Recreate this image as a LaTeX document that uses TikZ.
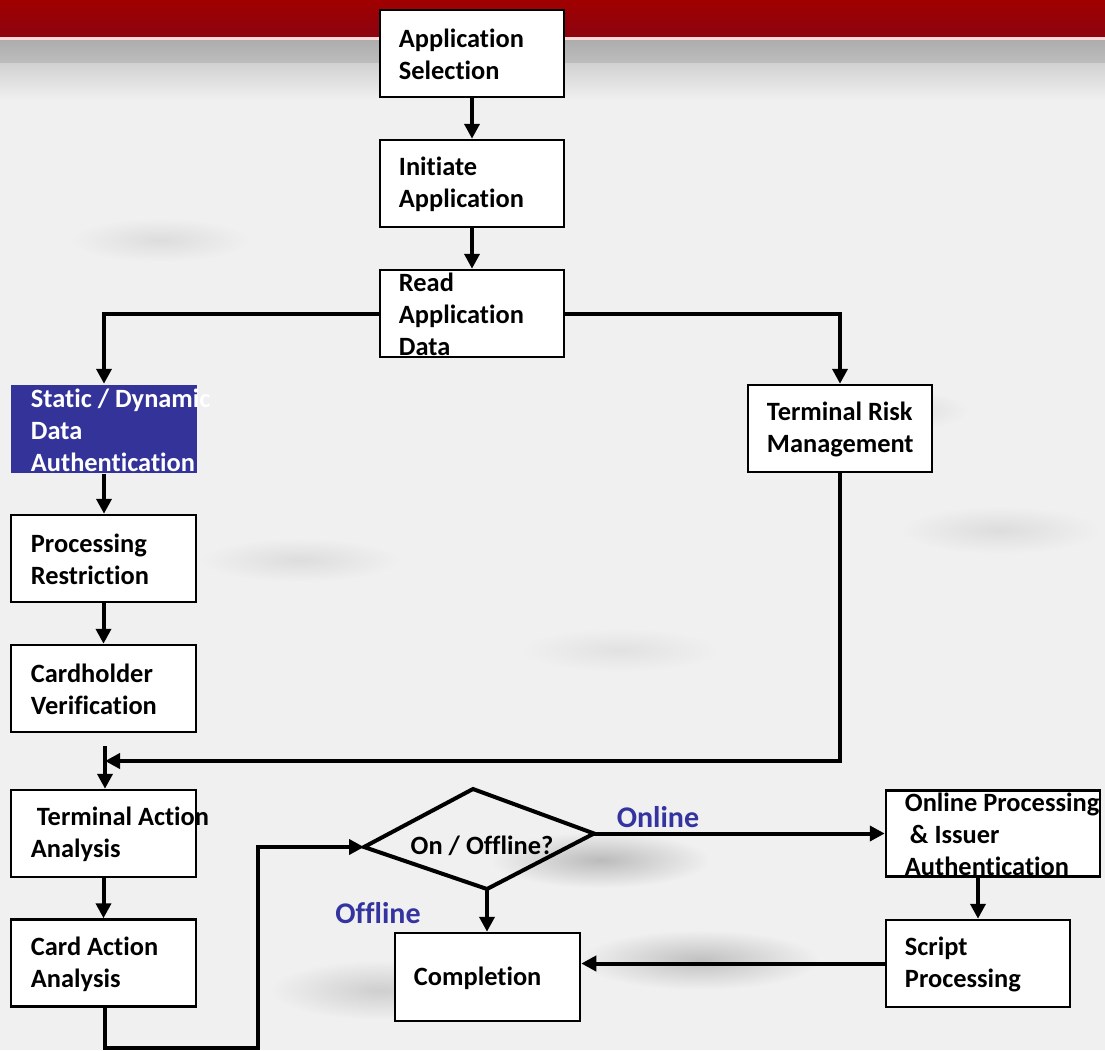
\documentclass[tikz,border=0pt]{standalone}
\usepackage{fontspec}
\setmainfont{Carlito}[Ligatures={NoCommon,NoContextual}]
\usetikzlibrary{arrows.meta,calc}
\definecolor{bandred}{RGB}{160,0,0}
\definecolor{banddark}{RGB}{140,4,16}
\definecolor{navy}{RGB}{51,51,153}
\definecolor{labelblue}{RGB}{52,52,160}
\definecolor{paper}{RGB}{240,240,240}
\begin{document}
\begin{tikzpicture}[x=1pt,y=-1pt,
  box/.style={draw=black,line width=2.5pt,fill=white,minimum width=184pt,minimum height=87pt,inner sep=0pt},
  txt/.style={anchor=west,align=left,inner sep=0pt,font=\fontsize{26.4}{32}\selectfont\bfseries},
  flow/.style={line width=4pt,-{Triangle[length=15pt,width=15pt]}},
  lbl/.style={font=\fontsize{30}{32}\selectfont\bfseries,text=labelblue,inner sep=0pt}]
% page background with the banner at the top
\useasboundingbox (0,0) rectangle (1105,1050);
\fill[paper] (0,0) rectangle (1105,1050);
\shade[top color=bandred,bottom color=banddark] (0,0) rectangle (1105,37);
\fill[white!85!red] (0,37) rectangle (1105,40);
\shade[top color=black!32,bottom color=black!26] (0,40) rectangle (1105,63);
\shade[top color=black!18,bottom color=paper] (0,63) rectangle (1105,100);
% soft streaks in the backdrop
\foreach \cx/\cy/\rx/\ry/\s in {600/860/110/28/22,700/960/120/30/20,880/410/90/22/10,300/560/100/22/8,1000/530/100/24/8,160/240/90/22/8,380/990/110/30/14,620/650/100/22/6}{
  \shade[inner color=black!\s!paper,outer color=paper] (\cx,\cy) ellipse ({\rx} and {\ry});
}
% process boxes
\node[box] (sel)  at (472,53.5) {};
\node[box] (ini)  at (472,183.5) {};
\node[box] (read) at (472,313.5) {};
\node[box,draw=none,fill=navy,minimum width=186pt,minimum height=88pt] (sda) at (104,429) {};
\node[box] (trm)  at (840,428.5) {};
\node[box,minimum width=185pt] (pr)   at (103.5,558.5) {};
\node[box,minimum width=185pt] (cv)   at (103.5,688.5) {};
\node[box,minimum width=185pt] (taa)  at (103.5,833.5) {};
\node[box,minimum width=185pt] (caa)  at (103.5,963) {};
\node[box,minimum width=185pt,minimum height=88pt] (comp) at (487.5,977) {};
\node[box,minimum width=214pt,minimum height=86pt] (op) at (993,833.5) {};
\node[box,minimum width=184pt] (sp)   at (978,963.5) {};
% box texts
\node[txt] at ($(sel.west)+(20,1)$) {Application\\Selection};
\node[txt] at ($(ini.west)+(20,1)$) {Initiate\\Application};
\node[txt] at ($(read.west)+(20,1)$) {Read\\Application\\Data};
\node[txt,text=white] at ($(sda.west)+(21,1)$) {Static / Dynamic\\Data\\Authentication};
\node[txt] at ($(trm.west)+(20,1)$) {Terminal Risk\\Management};
\node[txt] at ($(pr.west)+(21,1)$) {Processing\\Restriction};
\node[txt] at ($(cv.west)+(21,1)$) {Cardholder\\Verification};
\node[txt] at ($(taa.west)+(21,1)$) {\hspace{6pt}Terminal Action\\Analysis};
\node[txt] at ($(caa.west)+(21,1)$) {Card Action\\Analysis};
\node[txt] at ($(comp.west)+(20,1)$) {Completion};
\node[txt] at ($(op.west)+(20,1)$) {Online Processing\\\hspace{5pt}\& Issuer\\Authentication};
\node[txt] at ($(sp.west)+(20,1)$) {Script\\Processing};
% decision diamond
\coordinate (dt) at (473,789);
\coordinate (dr) at (594,833.5);
\coordinate (db) at (487,889);
\coordinate (dl) at (364,847);
\draw[line width=4pt,line join=miter] (dt) -- (dr) -- (db) -- (dl) -- cycle;
\node[txt,anchor=center] (dec) at (482,846) {On / Offline?};
% branch labels
\node[lbl] (lon) at (658,817) {Online};
\node[lbl] (loff) at (378,913) {Offline};
% connectors
\coordinate (tj) at (105,746);
\coordinate (mj) at (105,761);
\coordinate (b1) at (105,1048);
\coordinate (b2) at (258,1048);
\draw[flow] (sel) -- (ini);
\draw[flow] (ini) -- (read);
\draw[flow] (read.west) -| (sda.north);
\draw[flow] (read.east) -| (trm.north);
\draw[flow] (sda.south) -- (sda.south |- pr.north);
\draw[flow] (pr) -- (cv);
\draw[flow] (tj) -- (tj |- taa.north);
\draw[flow] (trm.south) |- (mj);
\draw[flow] (taa) -- (caa);
\draw[flow] (caa.south -| b1) -- (b1) -- (b2) |- (dl);
\draw[flow] (dr) -- (dr -| op.west);
\draw[flow] (db) -- (db |- comp.north);
\draw[flow] (sp.north |- op.south) -- (sp.north);
\draw[flow] (sp.west) -- (sp.west -| comp.east);
\end{tikzpicture}
\end{document}
